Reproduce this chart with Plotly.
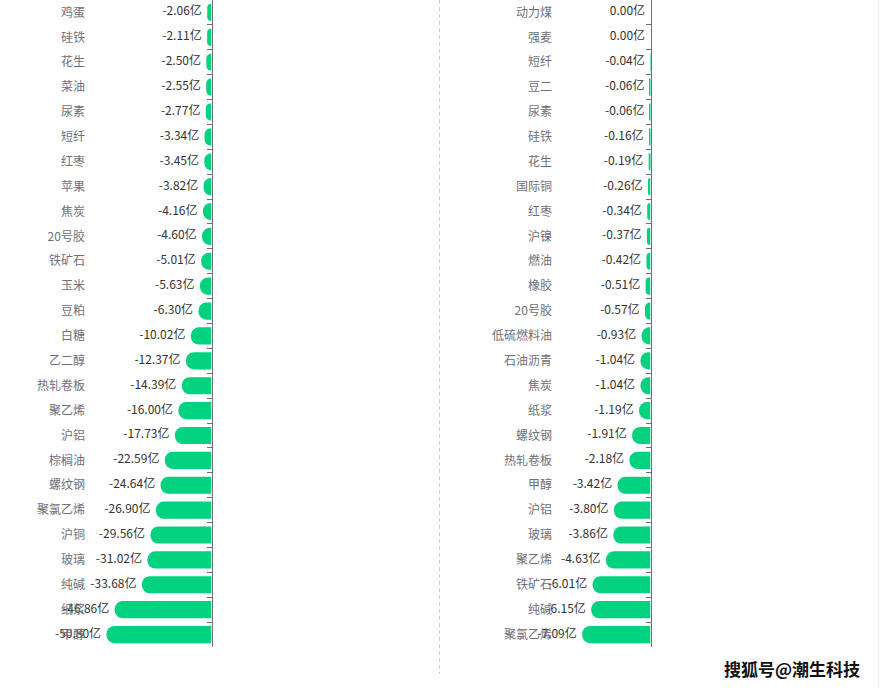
import plotly.graph_objects as go

W, H = 880, 688

left_names = ["鸡蛋", "硅铁", "花生", "菜油", "尿素", "短纤", "红枣", "苹果", "焦炭", "20号胶",
              "铁矿石", "玉米", "豆粕", "白糖", "乙二醇", "热轧卷板", "聚乙烯", "沪铝", "棕榈油",
              "螺纹钢", "聚氯乙烯", "沪铜", "玻璃", "纯碱", "纸浆", "甲醇"]
left_values = [-2.06, -2.11, -2.50, -2.55, -2.77, -3.34, -3.45, -3.82, -4.16, -4.60,
               -5.01, -5.63, -6.30, -10.02, -12.37, -14.39, -16.00, -17.73, -22.59,
               -24.64, -26.90, -29.56, -31.02, -33.68, -46.86, -50.80]

right_names = ["动力煤", "强麦", "短纤", "豆二", "尿素", "硅铁", "花生", "国际铜", "红枣", "沪镍",
               "燃油", "橡胶", "20号胶", "低硫燃料油", "石油沥青", "焦炭", "纸浆", "螺纹钢",
               "热轧卷板", "甲醇", "沪铝", "玻璃", "聚乙烯", "铁矿石", "纯碱", "聚氯乙烯"]
right_values = [0.00, 0.00, -0.04, -0.06, -0.06, -0.16, -0.19, -0.26, -0.34, -0.37,
                -0.42, -0.51, -0.57, -0.93, -1.04, -1.04, -1.19, -1.91,
                -2.18, -3.42, -3.80, -3.86, -4.63, -6.01, -6.15, -7.09]

FONT = "Noto Sans CJK SC, Microsoft YaHei, sans-serif"
GREEN = "#02d180"
AXIS = "#6e7079"


def label(v):
    s = f"{v:.2f}"
    if s == "-0.00":
        s = "0.00"
    return s + "亿  "


fig = go.Figure()
for names, values, xa, ya in [(left_names, left_values, "x", "y"),
                              (right_names, right_values, "x2", "y2")]:
    fig.add_trace(go.Bar(
        x=values, y=names, orientation="h", xaxis=xa, yaxis=ya,
        marker=dict(color=GREEN, cornerradius=9, line=dict(width=0)),
        hoverinfo="skip",
    ))
    fig.add_trace(go.Scatter(
        x=values, y=names, mode="text", xaxis=xa, yaxis=ya,
        text=[label(v) for v in values], textposition="middle left",
        textfont=dict(color="#333333", size=12, family=FONT),
        cliponaxis=False, hoverinfo="skip",
    ))

ydom = [1 - 647 / H, 1]
xcommon = dict(showticklabels=False, showgrid=False, zeroline=False, showline=False, ticks="")
ycommon = dict(
    side="right", showline=True, linecolor=AXIS, linewidth=1,
    ticks="inside", ticklen=5, tickcolor=AXIS, tickson="boundaries",
    ticklabelposition="inside", showgrid=False, zeroline=False,
    range=[len(left_names) - 0.5, -0.5], domain=ydom,
    tickfont=dict(color="#6e7079", size=12, family=FONT),
)

fig.update_layout(
    width=W, height=H,
    margin=dict(l=0, r=0, t=0, b=0),
    paper_bgcolor="white", plot_bgcolor="white",
    showlegend=False, bargap=0.31,
    font=dict(family=FONT),
    xaxis=dict(domain=[0, 211.5 / W], range=[-211.5 / 2.067, 0], **xcommon),
    xaxis2=dict(domain=[440 / W, 650.5 / W], range=[-210.5 / 9.64, 0], **xcommon),
    yaxis=dict(anchor="x", ticklabelstandoff=121, categoryorder="array",
               categoryarray=left_names, **ycommon),
    yaxis2=dict(anchor="x2", ticklabelstandoff=93, categoryorder="array",
                categoryarray=right_names, **ycommon),
    shapes=[
        dict(type="line", xref="paper", yref="paper", x0=439.5 / W, x1=439.5 / W,
             y0=1, y1=1 - 674 / H, line=dict(color="#cccccc", width=1, dash="4px,3px")),
        dict(type="line", xref="paper", yref="paper", x0=878.5 / W, x1=878.5 / W,
             y0=1, y1=0, line=dict(color="#eeeef6", width=1)),
    ],
    annotations=[
        dict(text="搜狐号@潮生科技", xref="paper", yref="paper",
             x=862 / W, y=1 - 668 / H, xanchor="right", yanchor="middle",
             showarrow=False, font=dict(size=17, color="#111111", family=FONT, weight="bold")),
    ],
)

fig.write_html("out.html", config={"displayModeBar": False},
               post_script="document.body.style.margin='0px';")
